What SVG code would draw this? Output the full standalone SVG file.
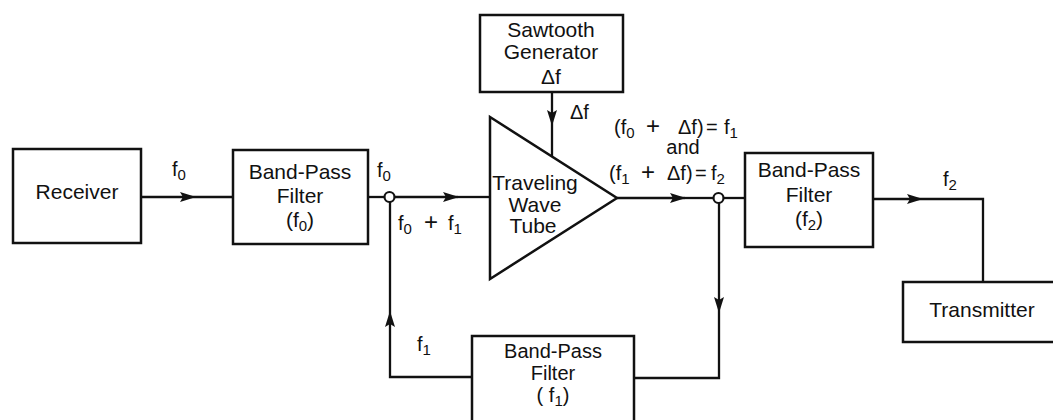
<svg xmlns="http://www.w3.org/2000/svg" width="1053" height="420" viewBox="0 0 1053 420">
<style>
  .box{fill:#fff;stroke:#111;stroke-width:2.5}
  .ln{fill:none;stroke:#111;stroke-width:2.3}
  .jn{fill:#fff;stroke:#111;stroke-width:2.2}
  text{font-family:"Liberation Sans",Arial,Helvetica,sans-serif;fill:#111}
  .bt{font-size:21px;text-anchor:middle}
  .bs{font-size:20px;text-anchor:middle}
  .lb{font-size:20px}
  .sub{font-size:15px}
  .pl{font-size:24px}
</style>
<defs>
  <marker id="arr" markerUnits="userSpaceOnUse" markerWidth="16" markerHeight="10" refX="15" refY="5" orient="auto">
    <path d="M0,0 L16,5 L0,10 L3,5 z" fill="#111"/>
  </marker>
</defs>
<rect width="1053" height="420" fill="#fff"/>

<g id="connectors">
  <path class="ln" d="M141,197 H195" marker-end="url(#arr)"/>
  <path class="ln" d="M195,197 H233"/>
  <path class="ln" d="M368,197 H385"/>
  <path class="ln" d="M394,197 H458" marker-end="url(#arr)"/>
  <path class="ln" d="M458,197 H490"/>
  <path class="ln" d="M552,92 V125" marker-end="url(#arr)"/>
  <path class="ln" d="M552,125 V157"/>
  <path class="ln" d="M617,198 H685" marker-end="url(#arr)"/>
  <path class="ln" d="M685,198 H714"/>
  <path class="ln" d="M723,198 H745"/>
  <path class="ln" d="M719,202 V312" marker-end="url(#arr)"/>
  <path class="ln" d="M719,312 V378 H634"/>
  <path class="ln" d="M472,377 H390 V312" marker-end="url(#arr)"/>
  <path class="ln" d="M390,312 V202"/>
  <path class="ln" d="M873,199 H922" marker-end="url(#arr)"/>
  <path class="ln" d="M922,199 H983 V282"/>
  <circle class="jn" cx="389.5" cy="197" r="5"/>
  <circle class="jn" cx="718.5" cy="198" r="5"/>
</g>

<g id="receiver">
  <rect class="box" x="13" y="149" width="128" height="94"/>
  <text class="bt" x="77" y="199">Receiver</text>
</g>

<g id="bpf0">
  <rect class="box" x="233" y="150" width="135" height="94"/>
  <text class="bt" x="300" y="179">Band-Pass</text>
  <text class="bt" x="300" y="203">Filter</text>
  <text class="bt" x="300" y="227">(f<tspan class="sub" dy="4">0</tspan><tspan dy="-4">)</tspan></text>
</g>

<g id="sawtooth">
  <rect class="box" x="480" y="15" width="143" height="77"/>
  <text class="bt" x="551" y="37">Sawtooth</text>
  <text class="bt" x="551" y="59">Generator</text>
  <text class="bt" x="551" y="84">Δf</text>
</g>

<g id="twt">
  <path class="box" d="M490,117 L617,198 L490,279 Z"/>
  <text class="bt" x="535" y="190">Traveling</text>
  <text class="bt" x="535" y="212">Wave</text>
  <text class="bt" x="533" y="233">Tube</text>
</g>

<g id="bpf2">
  <rect class="box" x="745" y="153" width="128" height="94"/>
  <text class="bt" x="809" y="177">Band-Pass</text>
  <text class="bt" x="809" y="202">Filter</text>
  <text class="bt" x="809" y="226">(f<tspan class="sub" dy="4">2</tspan><tspan dy="-4">)</tspan></text>
</g>

<g id="transmitter">
  <rect class="box" x="903" y="282" width="160" height="60"/>
  <text class="bt" x="982" y="317">Transmitter</text>
</g>

<g id="bpf1">
  <rect class="box" x="472" y="336" width="162" height="100"/>
  <text class="bs" x="553" y="358">Band-Pass</text>
  <text class="bs" x="553" y="380">Filter</text>
  <text class="bs" x="553" y="402">( f<tspan class="sub" dy="4">1</tspan><tspan dy="-4">)</tspan></text>
</g>

<g id="labels">
  <text class="lb" x="172" y="176">f<tspan class="sub" dy="4">0</tspan></text>
  <text class="lb" x="377" y="177">f<tspan class="sub" dy="4">0</tspan></text>
  <text class="lb"><tspan x="398" y="230">f</tspan><tspan class="sub" dy="4">0</tspan><tspan class="pl" x="424" dy="-4">+</tspan><tspan x="448">f</tspan><tspan class="sub" dy="4">1</tspan></text>
  <text class="lb" x="570" y="119">Δf</text>
  <text class="lb"><tspan x="614" y="134">(f</tspan><tspan class="sub" dy="4">0</tspan><tspan class="pl" x="646" dy="-4">+</tspan><tspan x="678">Δf)</tspan><tspan x="706">=</tspan><tspan x="724">f</tspan><tspan class="sub" dy="4">1</tspan></text>
  <text class="lb" x="683" y="154" text-anchor="middle">and</text>
  <text class="lb"><tspan x="609" y="180">(f</tspan><tspan class="sub" dy="4">1</tspan><tspan class="pl" x="641" dy="-4">+</tspan><tspan x="667">Δf)</tspan><tspan x="695">=</tspan><tspan x="711">f</tspan><tspan class="sub" dy="4">2</tspan></text>
  <text class="lb" x="943" y="186">f<tspan class="sub" dy="4">2</tspan></text>
  <text class="lb" x="417" y="351">f<tspan class="sub" dy="4">1</tspan></text>
</g>
</svg>
